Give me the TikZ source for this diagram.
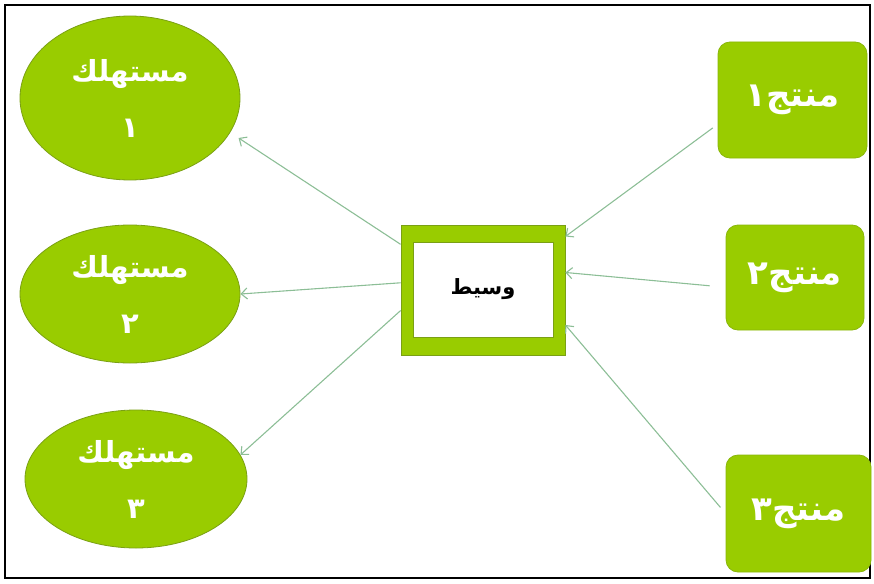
\documentclass[tikz,border=0pt]{standalone}
\usepackage{fontspec}
\usetikzlibrary{shapes.geometric,arrows.meta}
\TeXXeTstate=1
\newfontfamily\arabicfont[Script=Arabic]{DejaVu Sans}
\definecolor{leaf}{RGB}{153,204,0}
\definecolor{leafdark}{RGB}{122,160,20}
\definecolor{arrowc}{RGB}{140,190,150}
\tikzset{
  consumer/.style={ellipse, fill=leaf, draw=leafdark, line width=0.8pt, inner sep=0pt,
    align=center, text=white, font=\arabicfont\bfseries\fontsize{29}{56}\selectfont},
  producer/.style={rectangle, rounded corners=12pt, fill=leaf, draw=leafdark!50!leaf,
    line width=0.8pt, inner sep=0pt, text=white, font=\arabicfont\bfseries\fontsize{34}{38}\selectfont},
  link/.style={draw=arrowc, line width=1.1pt, -{Straight Barb[length=6pt,width=11pt]}},
}
\begin{document}
\begin{tikzpicture}[x=1pt,y=-1pt]
\useasboundingbox (0,0) rectangle (874,583);
\draw[line width=2pt] (5,5) rectangle (870,578);

\node[consumer, minimum width=220pt, minimum height=164pt] (c1) at (130,98)
  {\beginR مستهلك\endR\\\beginR ١\endR};
\node[consumer, minimum width=220pt, minimum height=138pt] (c2) at (130,294)
  {\beginR مستهلك\endR\\\beginR ٢\endR};
\node[consumer, minimum width=222pt, minimum height=138pt] (c3) at (136,479)
  {\beginR مستهلك\endR\\\beginR ٣\endR};

\node[rectangle, fill=leaf, draw=leafdark, line width=0.8pt, minimum width=164pt, minimum height=130pt] (mid) at (483,290) {};
\node[rectangle, fill=white, draw=leafdark, line width=0.8pt, minimum width=140pt, minimum height=95pt,
  font=\arabicfont\bfseries\fontsize{21}{24}\selectfont] (midin) at (483,289.5) {\beginR وسيط\endR};

\node[producer, minimum width=149pt, minimum height=116pt] (p1) at (792.5,100) {\beginR منتج١\endR};
\node[producer, minimum width=138pt, minimum height=105pt] (p2) at (795,277.5) {\beginR منتج٢\endR};
\node[producer, minimum width=145pt, minimum height=117pt] (p3) at (798.5,513.5) {\beginR منتج٣\endR};

\draw[link, shorten <=6pt] (p1.198) -- (mid.33);
\draw[link, shorten <=16pt] (p2.188) -- (mid.12);
\draw[link, shorten <=8pt] (p3.west) -- (mid.-23);

\draw[link, shorten >=10pt] (mid.151) -- (c1.-19);
\draw[link] (mid.175) -- (c2.east);
\draw[link] (mid.194) -- (c3.13);
\end{tikzpicture}
\end{document}
